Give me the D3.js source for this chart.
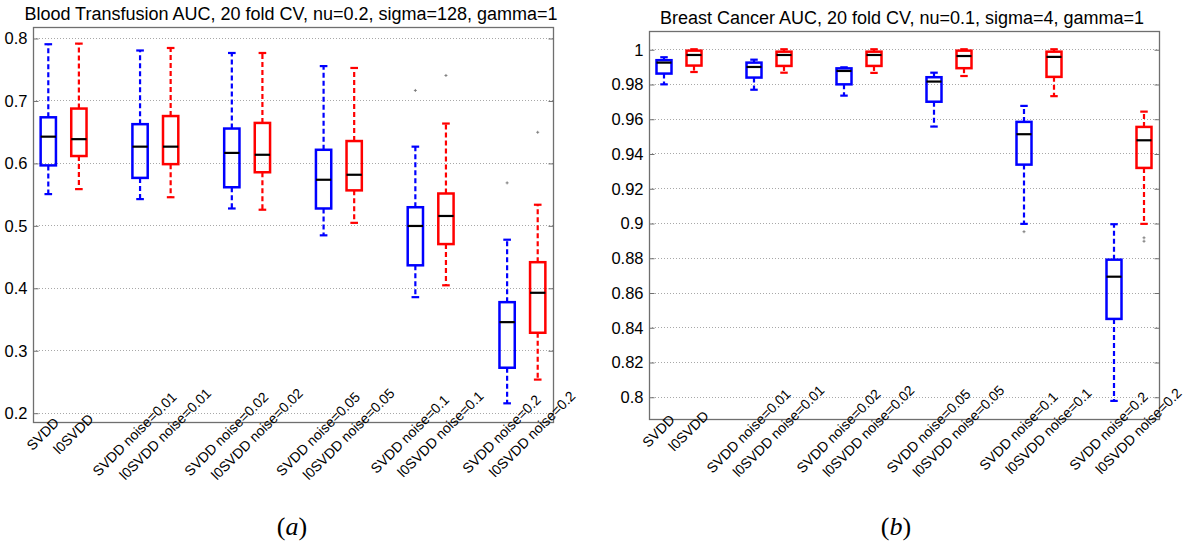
<!DOCTYPE html>
<html>
<head>
<meta charset="utf-8">
<script src="https://cdn.jsdelivr.net/npm/d3@7"></script>
<style>
body { margin: 0; background: #fff; }
svg { display: block; font-family: "Liberation Sans", Arial, sans-serif; }
</style>
</head>
<body>
<svg id="chart" width="1185" height="548"></svg>
<script>
// group labels, one per box (SVDD / l0SVDD pairs)
var categories = ["SVDD", "l0SVDD",
                  "SVDD noise=0.01", "l0SVDD noise=0.01",
                  "SVDD noise=0.02", "l0SVDD noise=0.02",
                  "SVDD noise=0.05", "l0SVDD noise=0.05",
                  "SVDD noise=0.1", "l0SVDD noise=0.1",
                  "SVDD noise=0.2", "l0SVDD noise=0.2"];

// (a) Blood Transfusion
var bloodLow  = [0.550, 0.558, 0.542, 0.545, 0.527, 0.525, 0.484, 0.504, 0.385, 0.404, 0.215, 0.253];
var bloodQ1   = [0.596, 0.611, 0.576, 0.598, 0.561, 0.585, 0.527, 0.556, 0.436, 0.470, 0.272, 0.328];
var bloodMed  = [0.642, 0.638, 0.626, 0.626, 0.616, 0.613, 0.573, 0.581, 0.499, 0.515, 0.345, 0.392];
var bloodQ3   = [0.673, 0.687, 0.662, 0.675, 0.655, 0.664, 0.621, 0.635, 0.529, 0.551, 0.377, 0.441];
var bloodHigh = [0.790, 0.791, 0.780, 0.784, 0.776, 0.776, 0.755, 0.752, 0.626, 0.663, 0.477, 0.533];
var bloodOutliers = [[], [], [], [], [], [], [], [], [0.716], [0.740], [0.568], [0.649]];
var bloodTicks = [0.2, 0.3, 0.4, 0.5, 0.6, 0.7, 0.8];

// (b) Breast Cancer
var cancerLow  = [0.9798, 0.9869, 0.9767, 0.9865, 0.9733, 0.9864, 0.9555, 0.9846, 0.8995, 0.9730, 0.7976, 0.8995];
var cancerQ1   = [0.9860, 0.9906, 0.9837, 0.9904, 0.9798, 0.9904, 0.9698, 0.9891, 0.9336, 0.9841, 0.8448, 0.9317];
var cancerMed  = [0.9923, 0.9967, 0.9898, 0.9967, 0.9875, 0.9967, 0.9814, 0.9961, 0.9511, 0.9956, 0.8691, 0.9476];
var cancerQ3   = [0.9937, 0.9992, 0.9923, 0.9986, 0.9890, 0.9986, 0.9839, 0.9992, 0.9582, 0.9986, 0.8789, 0.9553];
var cancerHigh = [0.9954, 1.0000, 0.9940, 1.0000, 0.9896, 1.0000, 0.9865, 1.0000, 0.9674, 1.0000, 0.8993, 0.9641];
var cancerOutliers = [[], [], [], [], [], [], [], [], [0.895], [], [], [0.8915, 0.8895]];
var cancerTicks = [0.8, 0.82, 0.84, 0.86, 0.88, 0.9, 0.92, 0.94, 0.96, 0.98, 1];

var svg = d3.select("#chart");
var BLUE = "#0000ff", RED = "#ff0000";
var AXIS = "#6f6f6f";

function makeRows(low, q1, med, q3, high, outl) {
    return categories.map(function(c, i) {
        return {name: c, i: i, pos: i + Math.floor(i / 2) + 1,
                low: low[i], q1: q1[i], med: med[i], q3: q3[i], high: high[i], out: outl[i]};
    });
}

function drawPanel(p) {
    var x = d3.scaleLinear().domain([0.5, 17.5]).range([p.left, p.right]);
    var y = d3.scaleLinear().domain(p.ydomain).range([p.bottom, p.top]);
    var g = svg.append("g");

    // dotted grid
    g.append("g").selectAll("line")
        .data(p.ticks)
        .enter().append("line")
        .attr("x1", p.left).attr("x2", p.right)
        .attr("y1", function(d) { return Math.round(y(d)) + 0.5; })
        .attr("y2", function(d) { return Math.round(y(d)) + 0.5; })
        .attr("stroke", "#a8a8a8")
        .attr("stroke-width", 1)
        .attr("stroke-dasharray", "1,2");

    var rows = p.rows;
    var bw = x(1.25) - x(1);   // half box width
    var cw = x(1.125) - x(1);  // half cap width
    var col = function(d) { return d.i % 2 === 0 ? BLUE : RED; };

    var box = g.append("g").selectAll("g")
        .data(rows)
        .enter().append("g");

    // whiskers
    box.append("line")
        .attr("x1", function(d) { return x(d.pos); })
        .attr("x2", function(d) { return x(d.pos); })
        .attr("y1", function(d) { return y(d.q3); })
        .attr("y2", function(d) { return y(d.high); })
        .attr("stroke", col).attr("stroke-width", 2.2)
        .attr("stroke-dasharray", "5,3");
    box.append("line")
        .attr("x1", function(d) { return x(d.pos); })
        .attr("x2", function(d) { return x(d.pos); })
        .attr("y1", function(d) { return y(d.q1); })
        .attr("y2", function(d) { return y(d.low); })
        .attr("stroke", col).attr("stroke-width", 2.2)
        .attr("stroke-dasharray", "5,3");
    // caps
    ["high", "low"].forEach(function(k) {
        box.append("line")
            .attr("x1", function(d) { return x(d.pos) - cw; })
            .attr("x2", function(d) { return x(d.pos) + cw; })
            .attr("y1", function(d) { return y(d[k]); })
            .attr("y2", function(d) { return y(d[k]); })
            .attr("stroke", col).attr("stroke-width", 2.2);
    });
    // box
    box.append("rect")
        .attr("x", function(d) { return x(d.pos) - bw; })
        .attr("width", 2 * bw)
        .attr("y", function(d) { return y(d.q3); })
        .attr("height", function(d) { return y(d.q1) - y(d.q3); })
        .attr("fill", "none")
        .attr("stroke", col).attr("stroke-width", 2.5);
    // median
    box.append("line")
        .attr("x1", function(d) { return x(d.pos) - bw; })
        .attr("x2", function(d) { return x(d.pos) + bw; })
        .attr("y1", function(d) { return y(d.med); })
        .attr("y2", function(d) { return y(d.med); })
        .attr("stroke", "#000").attr("stroke-width", 2.2);
    // outliers (tiny gray plus)
    box.selectAll("path.out")
        .data(function(d) { return d.out.map(function(v) { return {pos: d.pos, v: v}; }); })
        .enter().append("path")
        .attr("class", "out")
        .attr("d", function(o) {
            var cx = x(o.pos), cy = y(o.v);
            return "M" + (cx - 1.5) + "," + cy + "h3M" + cx + "," + (cy - 1.5) + "v3";
        })
        .attr("stroke", "#777").attr("stroke-width", 0.9);

    // frame
    g.append("rect")
        .attr("x", p.left + 0.5).attr("y", p.top + 0.5)
        .attr("width", p.right - p.left).attr("height", p.bottom - p.top)
        .attr("fill", "none").attr("stroke", AXIS).attr("stroke-width", 1.3);

    // y axis (ticks pointing inward, both sides)
    var yAxis = g.append("g")
        .attr("transform", "translate(" + (p.left + 0.5) + ",0.5)")
        .call(d3.axisLeft(y).tickValues(p.ticks).tickSize(-5).tickPadding(6)
              .tickFormat(d3.format("~g")));
    yAxis.select(".domain").remove();
    yAxis.selectAll("line").attr("stroke", AXIS);
    yAxis.selectAll("text")
        .attr("font-size", 16.5)
        .attr("font-family", "Liberation Sans, Arial, sans-serif")
        .attr("fill", "#000");

    var yAxisR = g.append("g")
        .attr("transform", "translate(" + (p.right + 0.5) + ",0.5)")
        .call(d3.axisRight(y).tickValues(p.ticks).tickSize(-5).tickFormat(""));
    yAxisR.select(".domain").remove();
    yAxisR.selectAll("line").attr("stroke", AXIS);

    // x labels, rotated
    var xAxis = g.append("g")
        .attr("transform", "translate(0," + p.bottom + ")")
        .call(d3.axisBottom(x).tickValues(rows.map(function(d) { return d.pos; }))
              .tickSize(0)
              .tickFormat(function(v) {
                  var r = rows.filter(function(d) { return d.pos === v; })[0];
                  return r ? r.name : "";
              }));
    xAxis.select(".domain").remove();
    xAxis.selectAll("text")
        .attr("y", 0).attr("dy", "0.35em")
        .attr("text-anchor", "middle")
        .attr("transform", "translate(-6,12) rotate(-45)")
        .attr("font-size", 14)
        .attr("font-family", "Liberation Sans, Arial, sans-serif")
        .attr("fill", "#000");

    // title
    g.append("text")
        .attr("x", (p.left + p.right) / 2 - 2)
        .attr("y", p.top - 7)
        .attr("text-anchor", "middle")
        .attr("font-size", 18)
        .text(p.title);

    // caption
    var cap = g.append("text")
        .attr("x", p.capX).attr("y", 535)
        .attr("text-anchor", "middle")
        .attr("font-family", "Liberation Serif, 'DejaVu Serif', serif")
        .attr("font-size", 26);
    cap.append("tspan").text("(");
    cap.append("tspan").attr("font-style", "italic").text(p.caption);
    cap.append("tspan").text(")");
}

drawPanel({
    title: "Blood Transfusion AUC, 20 fold CV, nu=0.2, sigma=128, gamma=1",
    rows: makeRows(bloodLow, bloodQ1, bloodMed, bloodQ3, bloodHigh, bloodOutliers),
    ticks: bloodTicks,
    ydomain: [0.1851, 0.8176],
    left: 33, right: 553, top: 27, bottom: 422,
    caption: "a", capX: 292
});

drawPanel({
    title: "Breast Cancer AUC, 20 fold CV, nu=0.1, sigma=4, gamma=1",
    rows: makeRows(cancerLow, cancerQ1, cancerMed, cancerQ3, cancerHigh, cancerOutliers),
    ticks: cancerTicks,
    ydomain: [0.7872, 1.0105],
    left: 649, right: 1159, top: 31, bottom: 419,
    caption: "b", capX: 896
});
</script>
</body>
</html>
